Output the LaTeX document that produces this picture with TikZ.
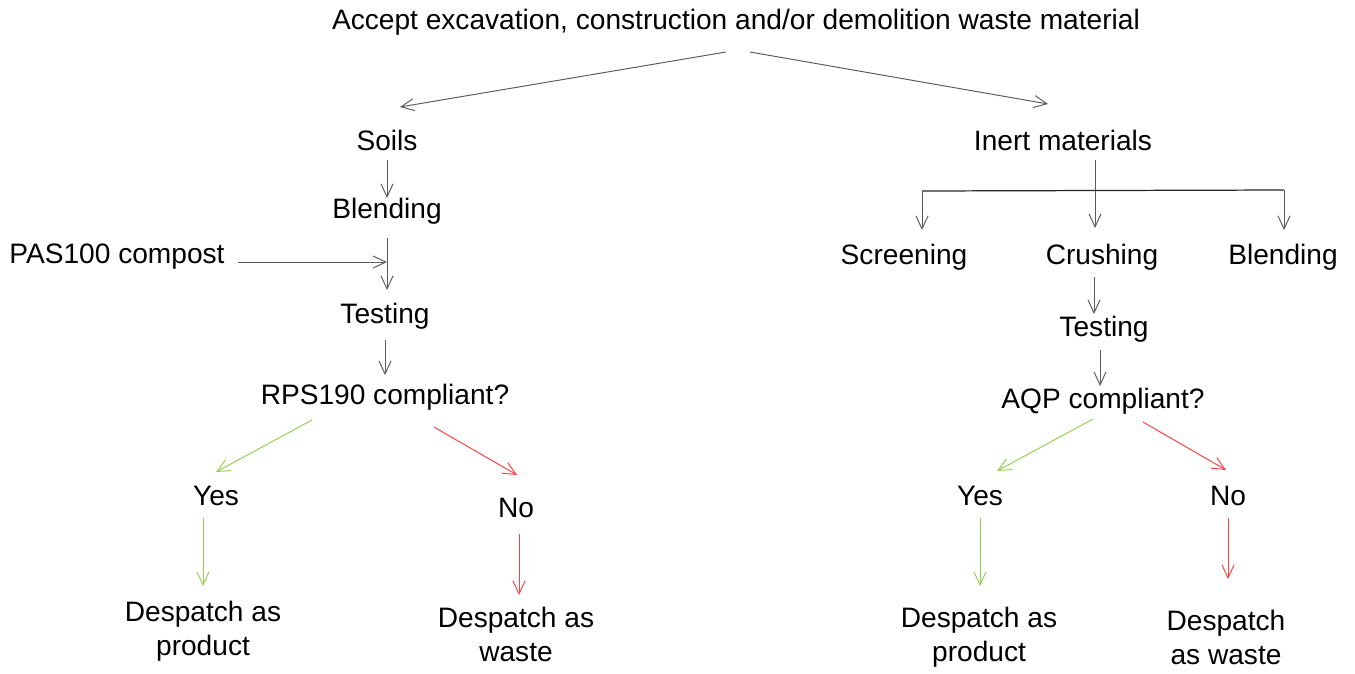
\documentclass[tikz,border=0pt]{standalone}
\usepackage{fontspec}
\setmainfont{Liberation Sans}
\usetikzlibrary{arrows.meta,calc}
\definecolor{lgray}{HTML}{5A5A5A}
\definecolor{lgreen}{HTML}{92D050}
\definecolor{lred}{HTML}{FF4040}
\tikzset{
  x=0.02cm, y=-0.02cm,
  lbl/.style={inner sep=0pt, align=center, font=\fontsize{16}{19.3}\selectfont},
  arr/.style={draw=lgray, line width=0.55pt, -{Straight Barb[length=2.6mm,width=4.2mm,angle'=50]}},
  garr/.style={arr, draw=lgreen},
  rarr/.style={arr, draw=lred},
  bar/.style={draw=black!85, line width=0.7pt}
}
\begin{document}
\begin{tikzpicture}
\useasboundingbox (0,0) rectangle (1355,673);
% nodes
\node[lbl] (T) at (736,22) {Accept excavation, construction and/or demolition waste material};
\node[lbl] (S) at (387,140) {Soils};
\node[lbl] (I) at (1063,140) {Inert materials};
\node[lbl] (B1) at (387,211) {Blending};
\node[lbl] (P) at (117,257) {PAS100 compost};
\node[lbl] (T1) at (385,316) {Testing};
\node[lbl] (R) at (385,397) {RPS190 compliant?};
\node[lbl] (Y1) at (216,496) {Yes};
\node[lbl] (N1) at (516,508) {No};
\node[lbl] (D1) at (203,631) {Despatch as\\product};
\node[lbl] (W1) at (516,634) {Despatch as\\waste};
\node[lbl] (Sc) at (904,257) {Screening};
\node[lbl] (Cr) at (1102,257) {Crushing};
\node[lbl] (Bl2) at (1283,257) {Blending};
\node[lbl] (T2) at (1104,329) {Testing};
\node[lbl] (AQ) at (1103,401) {AQP compliant?};
\node[lbl] (Y2) at (980,496) {Yes};
\node[lbl] (N2) at (1228,496) {No};
\node[lbl] (D2) at (979,637) {Despatch as\\product};
\node[lbl] (W2) at (1226,637) {Despatch\\as waste};
% left branch
\draw[arr] ($(T)+(-10,30)$) -- ($(S)+(13,-33)$);
\draw[arr] ($(T)+(14,30)$) -- ($(I)+(-15,-36)$);
\draw[arr] ($(S)+(0,20)$) -- ($(B1)+(0,-13)$);
\draw[arr] ($(B1)+(0,27)$) -- ($(T1)+(2,-26)$);
\coordinate (J1) at ($(B1)+(0,51)$);
\draw[arr] ($(P)+(121,5)$) -- (J1);
\draw[arr] ($(T1)+(0,24)$) -- ($(R)+(0,-22)$);
\draw[garr] ($(R)+(-73,23)$) -- ($(Y1)+(0,-24)$);
\draw[rarr] ($(R)+(49,30)$) -- ($(N1)+(1,-33)$);
\draw[garr] ($(Y1)+(-13,22)$) -- ($(D1)+(0,-45)$);
\draw[rarr] ($(N1)+(3,26)$) -- ($(W1)+(3,-39)$);
% right branch
\draw[arr] ($(I)+(32,20)$) -- ($(Cr)+(-7,-29)$);
\coordinate (HL) at ($(Sc)+(18,-66)$);
\coordinate (HR) at ($(Bl2)+(1,-67)$);
\draw[bar] (HL) -- (HR);
\draw[arr] (HL) -- ($(Sc)+(18,-27)$);
\draw[arr] (HR) -- ($(Bl2)+(1,-27)$);
\draw[arr] ($(Cr)+(-8,20)$) -- ($(T2)+(-10,-15)$);
\draw[arr] ($(T2)+(-4,21)$) -- ($(AQ)+(-3,-15)$);
\draw[garr] ($(AQ)+(-10,18)$) -- ($(Y2)+(17,-25)$);
\draw[rarr] ($(AQ)+(40,21)$) -- ($(N2)+(-2,-26)$);
\draw[garr] ($(Y2)+(0,22)$) -- ($(D2)+(1,-51)$);
\draw[rarr] ($(N2)+(0,22)$) -- ($(W2)+(2,-58)$);
\end{tikzpicture}
\end{document}
